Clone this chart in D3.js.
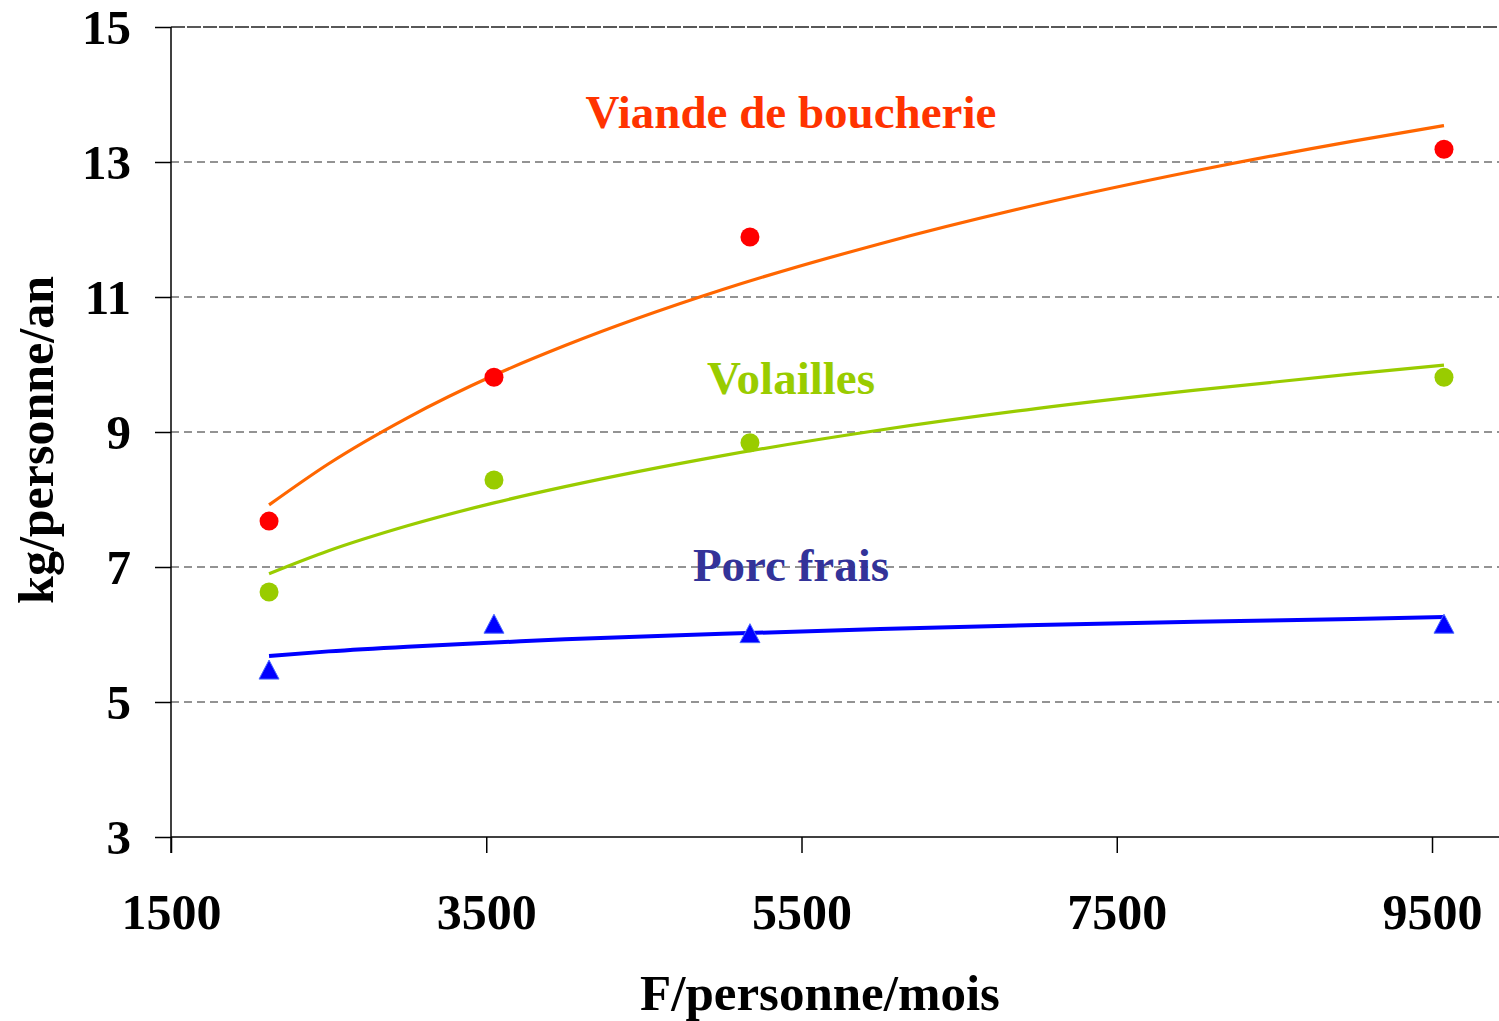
<!DOCTYPE html>
<html>
<head>
<meta charset="utf-8">
<script src="https://cdn.jsdelivr.net/npm/d3@7"></script>
<style>
  body { margin: 0; background: #fff; }
  svg text { font-family: "Liberation Serif", "Times New Roman", serif; font-weight: bold; }
</style>
</head>
<body>
<div id="chart"></div>
<script>
// revenue (F/personne/mois) of each group
var incomes = [2122, 3549, 5173, 9576];
// observed consumption, kg/personne/an
var boucherie = [7.68, 9.81, 11.89, 13.19];
var volailles = [6.63, 8.29, 8.84, 9.81];
var porcFrais = [5.48, 6.16, 6.02, 6.16];

// trend curves
var trendX = [2122, 2500, 3000, 3549, 4000, 5000, 6000, 7000, 8000, 9000, 9576];
var trendBoucherie = [7.92, 8.53, 9.21, 9.84, 10.28, 11.11, 11.79, 12.37, 12.87, 13.31, 13.54];
var trendVolailles = [6.90, 7.24, 7.61, 7.95, 8.19, 8.65, 9.03, 9.35, 9.62, 9.86, 9.99];
var trendPorc = [5.68, 5.75, 5.82, 5.88, 5.93, 6.01, 6.08, 6.14, 6.19, 6.23, 6.26];

var xTicks = [1500, 3500, 5500, 7500, 9500];
var yTicks = [3, 5, 7, 9, 11, 13, 15];

var seriesLabels = ["Viande de boucherie", "Volailles", "Porc frais"];

let width = 1499;
let height = 1021;

let svg = d3.select('#chart')
  .append('svg')
  .attr('width', width)
  .attr('height', height)

let x = d3.scaleLinear().domain([1500, 9925]).range([171, 1499]);
let y = d3.scaleLinear().domain([3, 15]).range([837, 27]);

// grid lines
svg.selectAll('.grid')
  .data(yTicks.filter(d => d > 3))
  .enter()
  .append('line')
  .attr('class', 'grid')
  .attr('x1', x(1500))
  .attr('x2', width)
  .attr('y1', d => y(d))
  .attr('y2', d => y(d))
  .style('stroke', d => d == 15 ? '#222' : '#707070')
  .style('stroke-width', 1.6)
  .style('stroke-dasharray', d => d == 15 ? '14,2' : '8,5')

// y axis
let yAxis = svg.append('g')
  .attr('transform', `translate(${x(1500)},0)`)
  .call(d3.axisLeft(y).tickValues(yTicks).tickSize(16).tickPadding(24))
yAxis.select('.domain').attr('d', `M0,${y(15)}V${y(3) + 16}`).style('stroke', '#000').style('stroke-width', 1.5)
yAxis.selectAll('.tick line').style('stroke', '#000').style('stroke-width', 1.5)
yAxis.selectAll('.tick text')
  .style('font-size', '49px')
  .attr('dy', '0.34em')
  .style('fill', '#000')

// x axis
let xAxis = svg.append('g')
  .attr('transform', `translate(0,${y(3)})`)
  .call(d3.axisBottom(x).tickValues(xTicks).tickSize(16).tickPadding(40).tickFormat(d3.format('d')))
xAxis.select('.domain').attr('d', `M${x(1500)},0H${width}`).style('stroke', '#000').style('stroke-width', 1.5)
xAxis.selectAll('.tick line').style('stroke', '#000').style('stroke-width', 1.5)
xAxis.selectAll('.tick text')
  .style('font-size', '50px')
  .style('fill', '#000')

// axis titles
svg.append('text')
  .attr('x', 820)
  .attr('y', 1010)
  .attr('text-anchor', 'middle')
  .style('font-size', '51px')
  .text('F/personne/mois')

svg.append('text')
  .attr('transform', 'translate(53,440) rotate(-90)')
  .attr('text-anchor', 'middle')
  .style('font-size', '50px')
  .text('kg/personne/an')

// trend curves
let line = d3.line()
  .x((d, i) => x(trendX[i]))
  .y(d => y(d))
  .curve(d3.curveMonotoneX)

let trends = [
  { values: trendBoucherie, color: '#ff6600', w: 3.2 },
  { values: trendVolailles, color: '#99cc00', w: 3.2 },
  { values: trendPorc, color: '#0000ff', w: 4 }
]

svg.selectAll('.trend')
  .data(trends)
  .enter()
  .append('path')
  .attr('class', 'trend')
  .attr('d', d => line(d.values))
  .style('fill', 'none')
  .style('stroke', d => d.color)
  .style('stroke-width', d => d.w)

// points
svg.selectAll('.dot-red')
  .data(boucherie)
  .enter()
  .append('circle')
  .attr('cx', (d, i) => x(incomes[i]))
  .attr('cy', d => y(d))
  .attr('r', 9.5)
  .style('fill', '#ff0000')

svg.selectAll('.dot-green')
  .data(volailles)
  .enter()
  .append('circle')
  .attr('cx', (d, i) => x(incomes[i]))
  .attr('cy', d => y(d))
  .attr('r', 9.5)
  .style('fill', '#99cc00')

svg.selectAll('.tri')
  .data(porcFrais)
  .enter()
  .append('path')
  .attr('transform', (d, i) => `translate(${x(incomes[i])},${y(d)})`)
  .attr('d', 'M0,-9.5L10,9.5L-10,9.5Z')
  .style('fill', '#0000ff')
  .style('stroke', '#4d6bff')
  .style('stroke-width', 1)

// series labels
let labelPos = [
  { y: 13.5, color: '#ff3300' },
  { y: 9.57, color: '#99cc00' },
  { y: 6.79, color: '#333399' }
]

svg.selectAll('.series-label')
  .data(seriesLabels)
  .enter()
  .append('text')
  .attr('class', 'series-label')
  .attr('x', 791)
  .attr('y', (d, i) => y(labelPos[i].y))
  .attr('text-anchor', 'middle')
  .style('font-size', '47px')
  .style('fill', (d, i) => labelPos[i].color)
  .text(d => d)
</script>
</body>
</html>
